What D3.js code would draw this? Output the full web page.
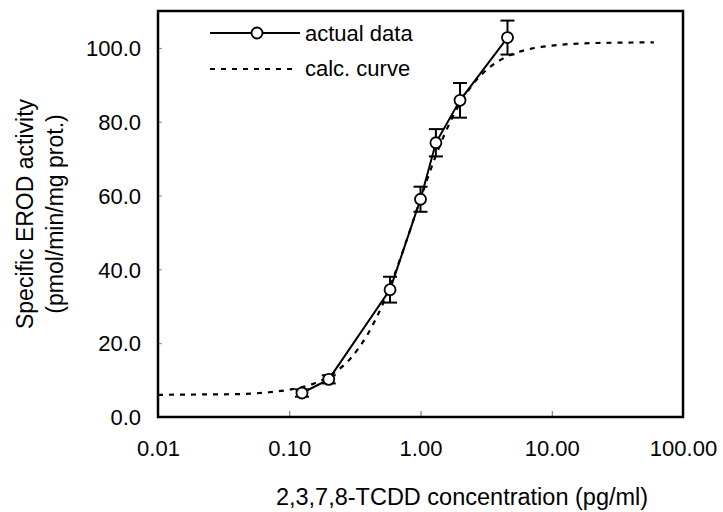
<!DOCTYPE html>
<html>
<head>
<meta charset="utf-8">
<script src="https://cdn.jsdelivr.net/npm/d3@7"></script>
<style>
  body { margin: 0; background: #fff; }
  svg { display: block; font-family: "Liberation Sans", Arial, sans-serif; }
</style>
</head>
<body>
<div id="chart"></div>
<script>
// measured points (concentration pg/ml, EROD activity, +/- error)
const concData = [0.125, 0.2, 0.586, 1.0, 1.31, 2.0, 4.6];
const activity = [6.5, 10.2, 34.5, 59.0, 74.3, 85.8, 102.8];
const errBar = [1.0, 1.1, 3.5, 3.4, 3.7, 4.7, 4.6];

// calculated curve
const curveX = [0.01, 0.02, 0.04, 0.07, 0.1, 0.15, 0.2, 0.3, 0.4, 0.5, 0.6, 0.7, 0.8, 1.0, 1.2, 1.5, 2.0, 2.5, 3.0, 4.0, 5.0, 7.0, 10, 20, 60];
const curveY = [6.0, 6.1, 6.2, 6.7, 7.4, 8.9, 11.0, 16.3, 22.7, 29.5, 36.3, 42.8, 48.8, 59.1, 67.2, 76.0, 85.0, 90.1, 93.2, 96.6, 98.3, 99.8, 100.6, 101.3, 101.5];

const xTicks = [0.01, 0.1, 1, 10, 100];
const yTicks = [0, 20, 40, 60, 80, 100];

const width = 723, height = 512;
const plot = { left: 158, top: 11, right: 683, bottom: 417 };

const svg = d3.select('#chart').append('svg')
  .attr('width', width)
  .attr('height', height);

const x = d3.scaleLog().domain([0.01, 100]).range([plot.left, plot.right]);
const y = d3.scaleLinear().domain([0, 110]).range([plot.bottom, plot.top]);

// axes (inward ticks, labels styled after)
const xAxis = svg.append('g')
  .attr('transform', `translate(0,${plot.bottom})`)
  .call(d3.axisBottom(x).tickValues(xTicks).tickFormat(d3.format('.2f')).tickSize(-6).tickPadding(0));
xAxis.select('.domain').remove();
xAxis.selectAll('line').attr('stroke', '#666').attr('stroke-width', 1);
xAxis.selectAll('text')
  .attr('y', 39).attr('dy', 0)
  .attr('fill', '#000')
  .attr('font-size', 22)
  .attr('font-family', '"Liberation Sans", Arial, sans-serif');

const yAxis = svg.append('g')
  .attr('transform', `translate(${plot.left},0)`)
  .call(d3.axisLeft(y).tickValues(yTicks).tickFormat(d3.format('.1f')).tickSize(-4).tickPadding(0));
yAxis.select('.domain').remove();
yAxis.selectAll('line').attr('stroke', '#888').attr('stroke-width', 1);
yAxis.selectAll('text')
  .attr('x', -17).attr('dy', '0.35em')
  .attr('fill', '#000')
  .attr('font-size', 22)
  .attr('font-family', '"Liberation Sans", Arial, sans-serif');

// calc. curve
const curvePts = curveX.map((d, i) => [d, curveY[i]]);
svg.append('path')
  .datum(curvePts)
  .attr('fill', 'none')
  .attr('stroke', '#000')
  .attr('stroke-width', 2.2)
  .attr('stroke-dasharray', '5,6')
  .attr('d', d3.line().x(d => x(d[0])).y(d => y(d[1])).curve(d3.curveMonotoneX));

// actual data line
const pts = concData.map((d, i) => ({ c: d, v: activity[i], e: errBar[i] }));
svg.append('path')
  .datum(pts)
  .attr('fill', 'none')
  .attr('stroke', '#000')
  .attr('stroke-width', 2)
  .attr('d', d3.line().x(d => x(d.c)).y(d => y(d.v)));

// error bars
const eb = svg.append('g').attr('stroke', '#000').attr('stroke-width', 2);
pts.forEach(d => {
  const cx = x(d.c);
  eb.append('line').attr('x1', cx).attr('x2', cx).attr('y1', y(d.v - d.e)).attr('y2', y(d.v + d.e));
  eb.append('line').attr('x1', cx - 7).attr('x2', cx + 7).attr('y1', y(d.v + d.e)).attr('y2', y(d.v + d.e));
  eb.append('line').attr('x1', cx - 7).attr('x2', cx + 7).attr('y1', y(d.v - d.e)).attr('y2', y(d.v - d.e));
});

svg.selectAll('.pt')
  .data(pts)
  .enter()
  .append('circle')
  .attr('class', 'pt')
  .attr('cx', d => x(d.c))
  .attr('cy', d => y(d.v))
  .attr('r', 5.5)
  .attr('fill', '#fff')
  .attr('stroke', '#000')
  .attr('stroke-width', 1.8);

// frame
svg.append('rect')
  .attr('x', plot.left).attr('y', plot.top)
  .attr('width', plot.right - plot.left).attr('height', plot.bottom - plot.top)
  .attr('fill', 'none')
  .attr('stroke', '#000')
  .attr('stroke-width', 2.5);

// legend
const lg = svg.append('g');
lg.append('line').attr('x1', 210).attr('x2', 300).attr('y1', 33).attr('y2', 33)
  .attr('stroke', '#000').attr('stroke-width', 2);
lg.append('circle').attr('cx', 257).attr('cy', 33).attr('r', 5.5)
  .attr('fill', '#fff').attr('stroke', '#000').attr('stroke-width', 1.8);
lg.append('text').attr('x', 305).attr('y', 33).attr('dy', '0.35em')
  .attr('font-size', 22).text('actual data');
lg.append('line').attr('x1', 210).attr('x2', 295).attr('y1', 69).attr('y2', 69)
  .attr('stroke', '#000').attr('stroke-width', 2.2).attr('stroke-dasharray', '5,6');
lg.append('text').attr('x', 305).attr('y', 68).attr('dy', '0.35em')
  .attr('font-size', 22).text('calc. curve');

// axis titles
svg.append('text')
  .attr('x', 462)
  .attr('y', 505)
  .attr('text-anchor', 'middle')
  .attr('font-size', 23.5)
  .text('2,3,7,8-TCDD concentration (pg/ml)');

const yt = svg.append('text')
  .attr('transform', `translate(25,${(plot.top + plot.bottom) / 2}) rotate(-90)`)
  .attr('text-anchor', 'middle')
  .attr('font-size', 23);
yt.append('tspan').attr('x', 0).attr('y', 0).attr('dy', '0.35em').text('Specific EROD activity');
yt.append('tspan').attr('x', 0).attr('y', 30).attr('dy', '0.35em').text('(pmol/min/mg prot.)');
</script>
</body>
</html>
